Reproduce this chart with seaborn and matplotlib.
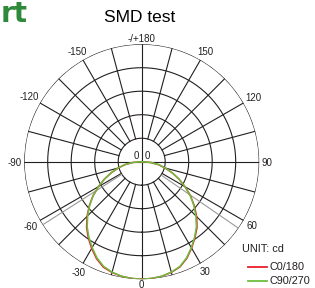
import numpy as np
import pandas as pd
import matplotlib
matplotlib.use("Agg")
import matplotlib.pyplot as plt
from matplotlib.lines import Line2D
import seaborn as sns

# ---------------- data ----------------
angles_deg = [0, 5, 10, 15, 20, 25, 30, 35, 40, 45, 50, 55, 60, 65, 70, 75, 80, 85, 90]
c0_180_pos = [1.0, 0.997, 0.99, 0.975, 0.953, 0.908, 0.85, 0.79, 0.732, 0.662, 0.585, 0.507, 0.426, 0.35, 0.276, 0.205, 0.145, 0.077, 0.0]
c0_180_neg = [1.0, 0.997, 0.99, 0.976, 0.955, 0.91, 0.852, 0.792, 0.73, 0.657, 0.582, 0.506, 0.425, 0.35, 0.275, 0.205, 0.145, 0.076, 0.0]
c90_270_pos = [1.0, 0.997, 0.99, 0.973, 0.949, 0.903, 0.845, 0.785, 0.724, 0.652, 0.579, 0.505, 0.425, 0.35, 0.278, 0.21, 0.15, 0.08, 0.0]
c90_270_neg = [1.0, 0.997, 0.99, 0.973, 0.948, 0.902, 0.843, 0.784, 0.722, 0.65, 0.578, 0.504, 0.424, 0.35, 0.278, 0.21, 0.15, 0.08, 0.0]
series_names = ["C0/180", "C90/270"]
series_colors = ["#e8202a", "#6cbf3e"]
beam_angles = [-57.5, 55.5]
ring_values = [0.2, 0.4, 0.6, 0.8, 1.0]
angle_labels_deg = [0, 30, 60, 90, 120, 150, 180, -150, -120, -90, -60, -30]
angle_label_text = ["0", "30", "60", "90", "120", "150", "-/+180", "-150", "-120", "-90", "-60", "-30"]
center_labels = ["0", "0"]
title_text = "SMD test"
unit_text = "UNIT: cd"
corner_text = "rt"

# ---------------- figure ----------------
W, H, DPI = 315, 288, 100
fig = plt.figure(figsize=(W / DPI, H / DPI), dpi=DPI)
fig.patch.set_facecolor("white")
plt.rcParams["font.family"] = ["Liberation Sans", "DejaVu Sans"]

cx, cy, R = 141.7, 161.7, 117.5
ax = fig.add_axes([(cx - R) / W, (H - cy - R) / H, 2 * R / W, 2 * R / H], projection="polar")
ax.set_theta_zero_location("S")
ax.set_theta_direction(1)
ax.set_ylim(0, 1)
ax.set_xticks([])
ax.set_yticks([])
ax.grid(False)
ax.spines["polar"].set_visible(False)
ax.patch.set_alpha(0)

gc = "#231f20"
glw = 0.8
full = np.linspace(0, 2 * np.pi, 721)
for rv in ring_values:
    ax.plot(full, np.full_like(full, rv), color=gc, lw=glw, zorder=1)
for a in range(0, 360, 15):
    start = 0.0 if a % 90 == 0 else ring_values[0]
    t = np.deg2rad(a)
    ax.plot([t, t], [start, 1.0], color=gc, lw=glw, zorder=1)

for b in beam_angles:
    t = np.deg2rad(b)
    ax.plot([t, t], [ring_values[0], 1.0], color="#9a9a9a", lw=0.8, zorder=2)

# curves
rows = []
for name, pos, neg in [(series_names[0], c0_180_pos, c0_180_neg),
                       (series_names[1], c90_270_pos, c90_270_neg)]:
    for a, v in zip(angles_deg[::-1], neg[::-1]):
        rows.append((name, np.deg2rad(-a), v))
    for a, v in zip(angles_deg[1:], pos[1:]):
        rows.append((name, np.deg2rad(a), v))
df = pd.DataFrame(rows, columns=["series", "theta", "r"])
sns.lineplot(data=df, x="theta", y="r", hue="series", hue_order=series_names,
             palette=series_colors, sort=False, legend=False, ax=ax, lw=1.1,
             estimator=None, zorder=3)
ax.set_xlabel("")
ax.set_ylabel("")
ax.set_ylim(0, 1)

# angle labels
fig.canvas.draw()
renderer = fig.canvas.get_renderer()
fs = 7
for a, txt in zip(angle_labels_deg, angle_label_text):
    t = np.deg2rad(a)
    s, c = np.sin(t), np.cos(t)
    tmp = fig.text(0, 0, txt, fontsize=fs)
    bb = tmp.get_window_extent(renderer)
    tmp.remove()
    w = bb.width * 72 / DPI
    h = 0.72 * fs
    gap = 0.6 if abs(c) > 0.99 and c > 0 else 2.0
    d = abs(s) * w / 2 + abs(c) * h / 2 + gap
    ax.annotate(txt, xy=(t, 1.0), xytext=(s * d, -c * d), textcoords="offset points",
                ha="center", va="center_baseline", fontsize=fs, color="#231f20",
                annotation_clip=False)

ax.annotate(center_labels[0], xy=(0, 0), xytext=(-4.2, 4.6), textcoords="offset points",
            ha="center", va="center_baseline", fontsize=fs, color="#231f20")
ax.annotate(center_labels[1], xy=(0, 0), xytext=(3.7, 4.6), textcoords="offset points",
            ha="center", va="center_baseline", fontsize=fs, color="#231f20")

# title & corner text
fig.text(140 / W, 1 - 18 / H, title_text, ha="center", va="center", fontsize=12.5, color="black")
fig.text(1 / W, 1 - 22.5 / H, corner_text, ha="left", va="baseline", fontsize=20,
         fontweight="bold", color="#2e8a3a", family="DejaVu Sans")

# legend
fig.text(241.7 / W, 1 - 249 / H, unit_text, ha="left", va="center", fontsize=7.8, color="#231f20")
for i, (name, col) in enumerate(zip(series_names, series_colors)):
    y = 1 - (266.5 + 14 * i) / H
    fig.add_artist(Line2D([248.3 / W, 266.7 / W], [y, y], color=col, lw=1.3,
                          transform=fig.transFigure))
    fig.text(270 / W, y, name, ha="left", va="center", fontsize=7.8, color="#231f20")

fig.savefig("out.png", dpi=DPI)
